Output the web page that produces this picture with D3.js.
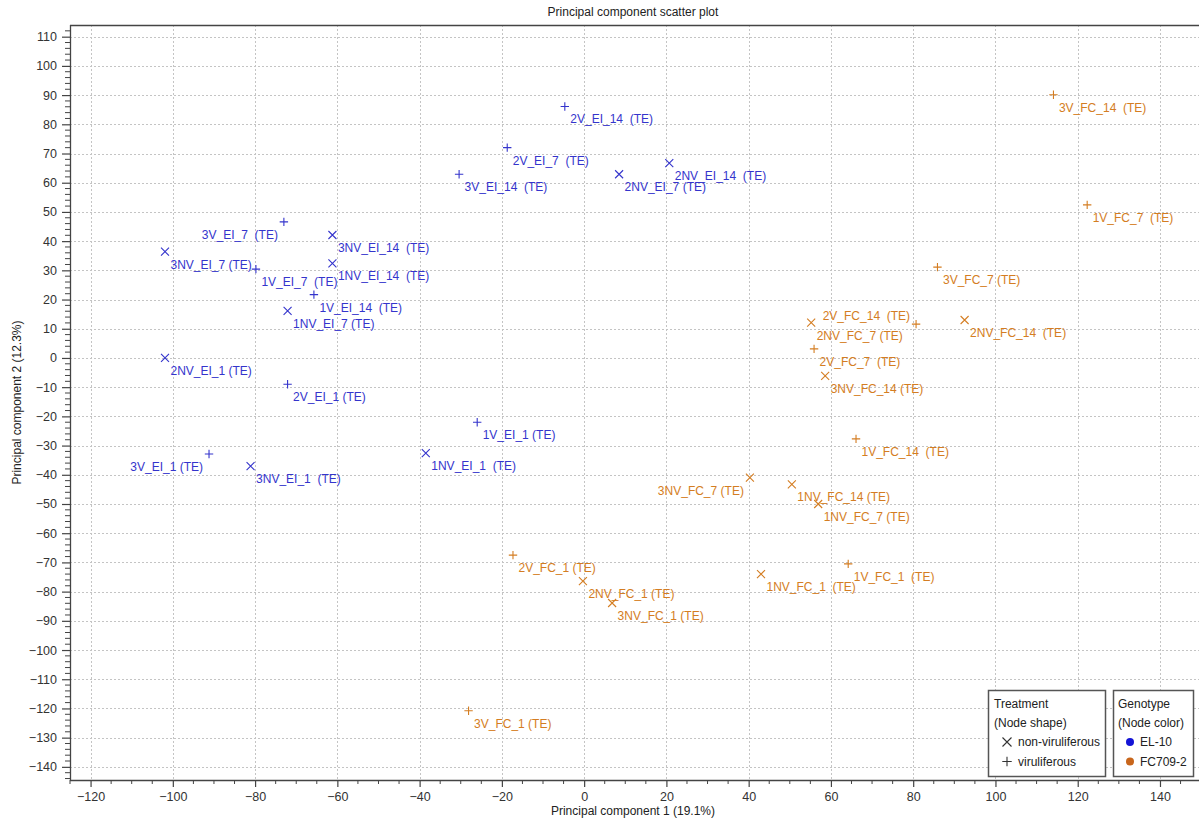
<!DOCTYPE html>
<html>
<head>
<meta charset="utf-8">
<script src="https://cdn.jsdelivr.net/npm/d3@7"></script>
<style>
  html, body { margin: 0; padding: 0; background: #fff; }
  svg { display: block; font-family: "Liberation Sans", Arial, sans-serif; }
  .lbl { white-space: pre; }
</style>
</head>
<body>
<svg id="chart" width="1199" height="822"></svg>
<script>
// Sample labels, PCA scores and grouping
const sampleNames = [
  "2V_EI_14  (TE)", "2V_EI_7  (TE)", "3V_EI_14  (TE)", "2NV_EI_7 (TE)", "2NV_EI_14  (TE)",
  "3V_EI_7  (TE)", "3NV_EI_14  (TE)", "3NV_EI_7 (TE)", "1NV_EI_14  (TE)", "1V_EI_7  (TE)",
  "1V_EI_14  (TE)", "1NV_EI_7 (TE)", "2NV_EI_1 (TE)", "2V_EI_1 (TE)", "1V_EI_1 (TE)",
  "3V_EI_1 (TE)", "3NV_EI_1  (TE)", "1NV_EI_1  (TE)",
  "3V_FC_14  (TE)", "1V_FC_7  (TE)", "3V_FC_7 (TE)", "2V_FC_14  (TE)", "2NV_FC_7 (TE)",
  "2NV_FC_14  (TE)", "2V_FC_7  (TE)", "3NV_FC_14 (TE)", "1V_FC_14  (TE)", "3NV_FC_7 (TE)",
  "1NV_FC_14 (TE)", "1NV_FC_7 (TE)", "1V_FC_1  (TE)", "1NV_FC_1  (TE)", "2V_FC_1 (TE)",
  "2NV_FC_1 (TE)", "3NV_FC_1 (TE)", "3V_FC_1 (TE)"
];
const pc1 = [
  -4.7, -18.7, -30.4, 8.5, 20.7,
  -73.0, -61.2, -101.9, -61.2, -79.8,
  -65.7, -72.1, -101.9, -72.1, -26.0,
  -91.2, -81.1, -38.5,
  114.1, 122.3, 85.9, 80.7, 55.2,
  92.5, 55.9, 58.6, 66.1, 40.3,
  50.5, 56.9, 64.2, 43.0, -17.3,
  -0.3, 6.8, -28.1
];
const pc2 = [
  86.1, 72.0, 62.9, 62.9, 66.7,
  46.6, 42.1, 36.4, 32.4, 30.4,
  21.7, 16.1, 0.0, -9.0, -22.0,
  -32.9, -37.0, -32.6,
  90.1, 52.4, 31.1, 11.6, 12.1,
  13.0, 3.1, -6.1, -27.7, -41.0,
  -43.3, -50.0, -70.5, -74.0, -67.5,
  -76.4, -83.9, -120.8
];
const treatment = [
  "V", "V", "V", "NV", "NV",
  "V", "NV", "NV", "NV", "V",
  "V", "NV", "NV", "V", "V",
  "V", "NV", "NV",
  "V", "V", "V", "V", "NV",
  "NV", "V", "NV", "V", "NV",
  "NV", "NV", "V", "NV", "V",
  "NV", "NV", "V"
];
const genotype = [
  "EL-10", "EL-10", "EL-10", "EL-10", "EL-10",
  "EL-10", "EL-10", "EL-10", "EL-10", "EL-10",
  "EL-10", "EL-10", "EL-10", "EL-10", "EL-10",
  "EL-10", "EL-10", "EL-10",
  "FC709-2", "FC709-2", "FC709-2", "FC709-2", "FC709-2",
  "FC709-2", "FC709-2", "FC709-2", "FC709-2", "FC709-2",
  "FC709-2", "FC709-2", "FC709-2", "FC709-2", "FC709-2",
  "FC709-2", "FC709-2", "FC709-2"
];
// Samples whose label sits to the left of the marker
const labelLeftBelow = ["3V_EI_7  (TE)", "3V_EI_1 (TE)", "3NV_FC_7 (TE)"];
const labelLeftAbove = ["2V_FC_14  (TE)"];

const xTicks = d3.range(-120, 141, 20);
const yTicks = d3.range(-140, 111, 10);
const genotypes = ["EL-10", "FC709-2"];
const treatments = [["NV", "non-viruliferous"], ["V", "viruliferous"]];

const data = sampleNames.map((n, i) => ({ name: n, x: pc1[i], y: pc2[i], t: treatment[i], g: genotype[i] }));

const svg = d3.select("#chart");
const plotL = 70, plotR = 1197, plotT = 25, plotB = 780;

const x = d3.scaleLinear().domain([-125, 149]).range([plotL, plotR]);
const y = d3.scaleLinear().domain([-144.5, 114]).range([plotB, plotT]);

const markColor = d3.scaleOrdinal().domain(genotypes).range(["#3434cc", "#d47d22"]);
const dotColor = d3.scaleOrdinal().domain(genotypes).range(["#1414d6", "#c8661c"]);

// Title
svg.append("text")
  .attr("x", 633).attr("y", 16)
  .attr("text-anchor", "middle")
  .attr("font-size", 12).attr("fill", "#222")
  .text("Principal component scatter plot");

// Dotted grid
const grid = svg.append("g").attr("stroke", "#c4c4c4").attr("stroke-dasharray", "2,2").attr("stroke-width", 1);
grid.selectAll("line.v").data(xTicks).join("line").attr("class", "v")
  .attr("x1", d => Math.round(x(d)) + 0.5).attr("x2", d => Math.round(x(d)) + 0.5)
  .attr("y1", plotT).attr("y2", plotB);
grid.selectAll("line.h").data(yTicks).join("line").attr("class", "h")
  .attr("y1", d => Math.round(y(d)) + 0.5).attr("y2", d => Math.round(y(d)) + 0.5)
  .attr("x1", plotL).attr("x2", 1199);

// Frame top line
svg.append("line").attr("x1", plotL).attr("x2", 1199).attr("y1", plotT + 0.5).attr("y2", plotT + 0.5)
  .attr("stroke", "#444").attr("stroke-width", 1.3);

// Y axis
const yAxis = svg.append("g").attr("transform", `translate(${plotL},0)`)
  .call(d3.axisLeft(y).tickValues(yTicks).tickSize(8).tickPadding(5).tickFormat(d3.format("d")));
yAxis.select(".domain").attr("stroke", "#444").attr("stroke-width", 1.3).attr("d", `M0.5,${plotT}V${plotB}`);
yAxis.selectAll(".tick line").attr("stroke", "#444").attr("stroke-width", 1.2);
yAxis.selectAll(".tick text").attr("font-size", 12.5).attr("fill", "#333").attr("font-family", "Liberation Sans, Arial, sans-serif");
const yMinor = d3.range(-144, 114, 2).filter(v => v % 10 !== 0);
svg.append("g").selectAll("line").data(yMinor).join("line")
  .attr("x1", plotL - 5).attr("x2", plotL + 1)
  .attr("y1", d => y(d)).attr("y2", d => y(d))
  .attr("stroke", "#444").attr("stroke-width", 1);

// X axis
const xAxis = svg.append("g").attr("transform", `translate(0,${plotB})`)
  .call(d3.axisBottom(x).tickValues(xTicks).tickSize(7).tickPadding(5).tickFormat(d3.format("d")));
xAxis.select(".domain").attr("stroke", "#444").attr("stroke-width", 1.3).attr("d", `M${plotL},0.5H1199`);
xAxis.selectAll(".tick line").attr("stroke", "#444").attr("stroke-width", 1.2);
xAxis.selectAll(".tick text").attr("font-size", 12.5).attr("fill", "#333").attr("font-family", "Liberation Sans, Arial, sans-serif");
const xMinor = d3.range(-125, 150, 5).filter(v => v % 20 !== 0);
svg.append("g").selectAll("line").data(xMinor).join("line")
  .attr("x1", d => x(d)).attr("x2", d => x(d))
  .attr("y1", plotB).attr("y2", plotB + 4)
  .attr("stroke", "#444").attr("stroke-width", 1);

// Axis titles
svg.append("text")
  .attr("x", 633).attr("y", 815)
  .attr("text-anchor", "middle").attr("font-size", 12).attr("fill", "#222")
  .text("Principal component 1 (19.1%)");
svg.append("text")
  .attr("transform", `translate(21,${(plotT + plotB) / 2}) rotate(-90)`)
  .attr("text-anchor", "middle").attr("font-size", 12).attr("fill", "#222")
  .text("Principal component 2 (12.3%)");

// Marker shapes
function markerPath(t, s) {
  if (t === "NV") return `M${-s},${-s}L${s},${s}M${-s},${s}L${s},${-s}`;
  const a = s * 1.05;
  return `M${-a},0H${a}M0,${-a}V${a}`;
}

const pts = svg.append("g");
pts.selectAll("path").data(data).join("path")
  .attr("transform", d => `translate(${x(d.x)},${y(d.y)})`)
  .attr("d", d => markerPath(d.t, 4))
  .attr("fill", "none")
  .attr("stroke", d => markColor(d.g))
  .attr("stroke-width", 1.1);

const isLeft = d => labelLeftBelow.includes(d.name) || labelLeftAbove.includes(d.name);
pts.selectAll("text").data(data).join("text")
  .attr("class", "lbl")
  .attr("font-size", 12)
  .attr("fill", d => markColor(d.g))
  .attr("x", d => isLeft(d) ? x(d.x) - 6 : x(d.x) + 5.5)
  .attr("y", d => labelLeftAbove.includes(d.name) ? y(d.y) - 4 : y(d.y) + 17)
  .attr("text-anchor", d => isLeft(d) ? "end" : "start")
  .text(d => d.name);

// Legends
const lg = svg.append("g").attr("font-size", 12).attr("fill", "#222");
lg.append("rect").attr("x", 988.5).attr("y", 690.5).attr("width", 117).attr("height", 86)
  .attr("fill", "#fff").attr("stroke", "#555").attr("stroke-width", 1.5);
lg.append("text").attr("x", 994).attr("y", 708).text("Treatment");
lg.append("text").attr("x", 994).attr("y", 727).text("(Node shape)");
treatments.forEach(([t, name], i) => {
  const cy = 742 + i * 19.5;
  lg.append("path").attr("transform", `translate(1007,${cy})`)
    .attr("d", markerPath(t, 4.5)).attr("fill", "none").attr("stroke", "#333").attr("stroke-width", 1.1);
  lg.append("text").attr("x", 1018).attr("y", cy + 4).text(name);
});

lg.append("rect").attr("x", 1113.5).attr("y", 690.5).attr("width", 80).attr("height", 86)
  .attr("fill", "#fff").attr("stroke", "#555").attr("stroke-width", 1.5);
lg.append("text").attr("x", 1118).attr("y", 708).text("Genotype");
lg.append("text").attr("x", 1118).attr("y", 727).text("(Node color)");
genotypes.forEach((g, i) => {
  const cy = 742 + i * 19.5;
  lg.append("circle").attr("cx", 1130).attr("cy", cy).attr("r", 4).attr("fill", dotColor(g));
  lg.append("text").attr("x", 1140).attr("y", cy + 4).text(g);
});
</script>
</body>
</html>
